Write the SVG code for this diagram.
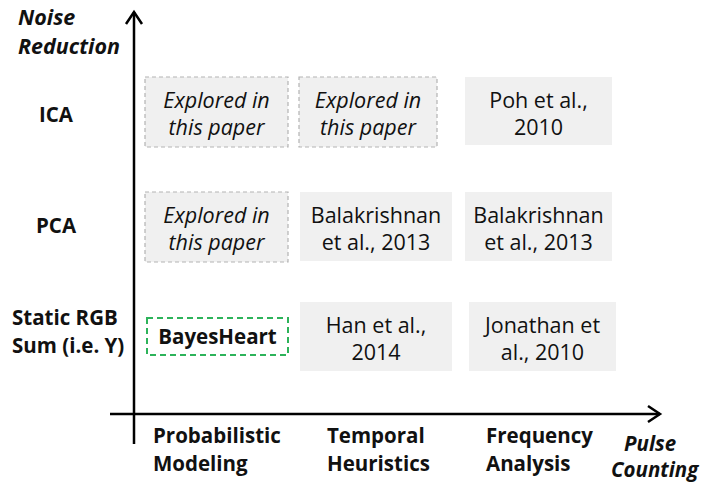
<svg xmlns="http://www.w3.org/2000/svg" width="716" height="482" viewBox="0 0 716 482">
<style>
text{font-family:"Open Sans","Liberation Sans",sans-serif;fill:#111;}
.t{font-size:21.5px;text-anchor:middle;}
.it{font-style:italic;}
.b{font-weight:bold;font-size:20.5px;}
.bi{font-weight:bold;font-style:italic;font-size:21.5px;}
.bi2{font-weight:bold;font-style:italic;font-size:20.5px;}
.dash{fill:#f0f0f0;stroke:#b3b3b3;stroke-width:1.2;stroke-dasharray:4 3;}
.solid{fill:#f0f0f0;stroke:none;}
.axis{stroke:#000;stroke-width:2.5;fill:none;}
</style>
<g id="axes">
<path class="axis" d="M134 12 V444"/>
<path class="axis" d="M126 24 L134 12 L142 24"/>
<path class="axis" d="M110 414 H660"/>
<path class="axis" d="M648 406 L660 414 L648 422"/>
</g>
<g id="axis-labels">
<text class="bi" x="18" y="25">Noise</text>
<text class="bi" x="18" y="54">Reduction</text>
<text class="b" x="56" y="122" text-anchor="middle">ICA</text>
<text class="b" x="56" y="233" text-anchor="middle">PCA</text>
<text class="b" x="12" y="325">Static RGB</text>
<text class="b" x="12" y="353">Sum (i.e. Y)</text>
<text class="b" x="153" y="443">Probabilistic</text>
<text class="b" x="153" y="471">Modeling</text>
<text class="b" x="327" y="443">Temporal</text>
<text class="b" x="327" y="471">Heuristics</text>
<text class="b" x="486" y="443">Frequency</text>
<text class="b" x="486" y="471">Analysis</text>
<text class="bi2" x="624" y="451">Pulse</text>
<text class="bi2" x="611" y="477">Counting</text>
</g>
<g id="ica-prob">
<rect class="dash" x="145" y="77" width="143" height="70"/>
<text class="t it" x="216.5" y="108">Explored in</text>
<text class="t it" x="216.5" y="135">this paper</text>
</g>
<g id="ica-temp">
<rect class="dash" x="299" y="77" width="138" height="70"/>
<text class="t it" x="368" y="108">Explored in</text>
<text class="t it" x="368" y="135">this paper</text>
</g>
<g id="ica-freq">
<rect class="solid" x="465" y="77" width="147" height="68"/>
<text class="t" x="538.5" y="108">Poh et al.,</text>
<text class="t" x="538.5" y="135">2010</text>
</g>
<g id="pca-prob">
<rect class="dash" x="145" y="192" width="143" height="70"/>
<text class="t it" x="216.5" y="223">Explored in</text>
<text class="t it" x="216.5" y="250">this paper</text>
</g>
<g id="pca-temp">
<rect class="solid" x="300" y="192" width="152" height="69"/>
<text class="t" x="376" y="223">Balakrishnan</text>
<text class="t" x="376" y="250">et al., 2013</text>
</g>
<g id="pca-freq">
<rect class="solid" x="465" y="192" width="147" height="69"/>
<text class="t" x="538.5" y="223">Balakrishnan</text>
<text class="t" x="538.5" y="250">et al., 2013</text>
</g>
<g id="rgb-prob">
<rect x="147" y="318" width="141" height="37" fill="none" stroke="#2db35a" stroke-width="2" stroke-dasharray="6 4"/>
<text class="b" x="217.5" y="344" text-anchor="middle">BayesHeart</text>
</g>
<g id="rgb-temp">
<rect class="solid" x="300" y="302" width="152" height="69"/>
<text class="t" x="376" y="333">Han et al.,</text>
<text class="t" x="376" y="360">2014</text>
</g>
<g id="rgb-freq">
<rect class="solid" x="469" y="302" width="147" height="69"/>
<text class="t" x="542.5" y="333">Jonathan et</text>
<text class="t" x="542.5" y="360">al., 2010</text>
</g>
</svg>
